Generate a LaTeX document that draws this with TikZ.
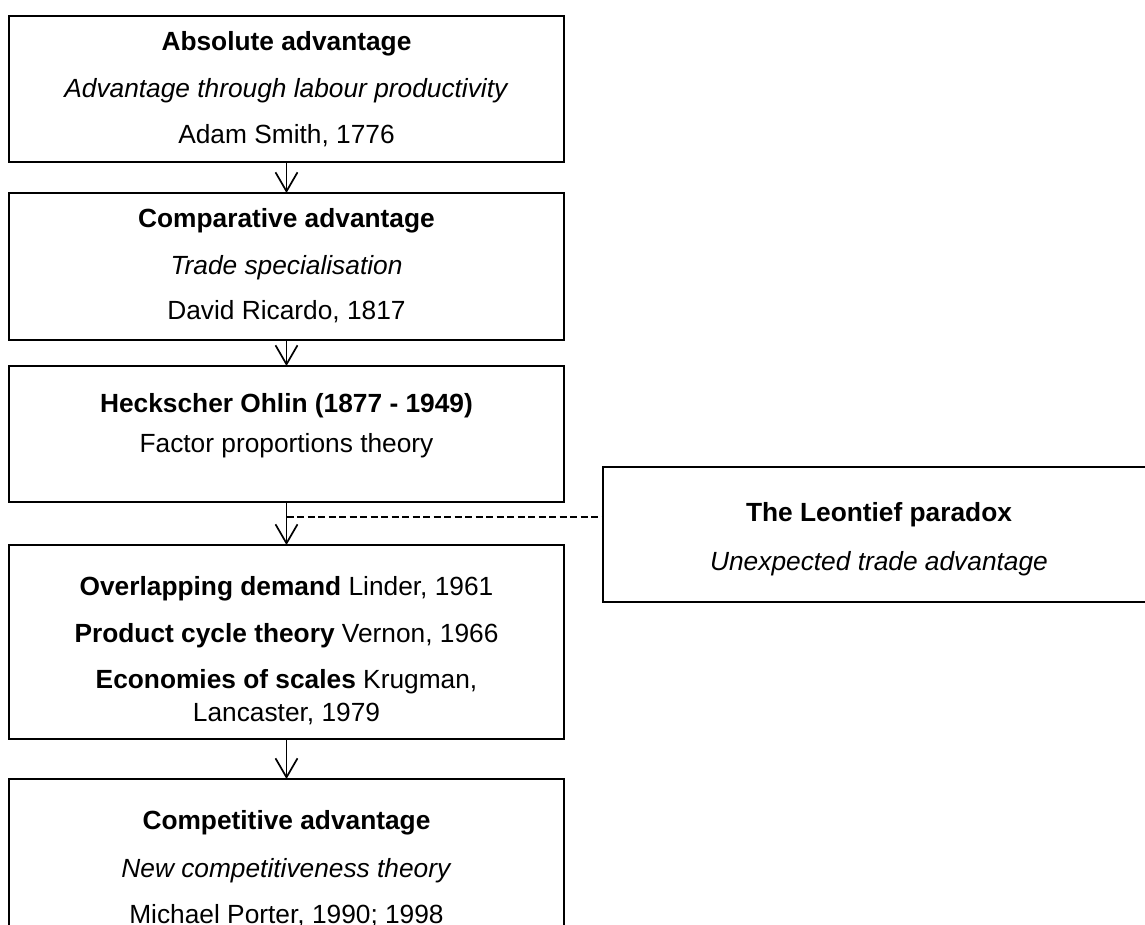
\documentclass[tikz,border=0pt]{standalone}
\usepackage{fontspec}
\setmainfont{Liberation Sans}
\usetikzlibrary{arrows.meta}
\tikzset{
  box/.style={draw=black, line width=1.5pt, rectangle, inner sep=0pt, outer sep=0pt},
  txt/.style={anchor=base, inner sep=0pt, outer sep=0pt, font=\fontsize{26.3}{31}\selectfont},
  arr/.style={draw=black, line width=1.7pt, -{Straight Barb[length=19pt,width=22pt,line width=1.7pt]}},
  dashline/.style={draw=black, line width=1.3pt, dash pattern=on 7pt off 3.5pt}
}
\begin{document}
\begin{tikzpicture}[x=1pt,y=-1pt]
\clip (0,0) rectangle (1145,925);
\fill[white] (0,0) rectangle (1145,925);
% boxes
\node[box, minimum width=555pt, minimum height=146pt] (b1) at (286.5,89) {};
\node[box, minimum width=555pt, minimum height=147pt] (b2) at (286.5,266.5) {};
\node[box, minimum width=555pt, minimum height=136pt] (b3) at (286.5,434) {};
\node[box, minimum width=555pt, minimum height=194pt] (b4) at (286.5,642) {};
\node[box, minimum width=555pt, minimum height=200pt] (b5) at (286.5,879) {};
\node[box, minimum width=557pt, minimum height=135pt] (leo) at (881.5,534.5) {};
% texts box 1
\node[txt] (t11) at (286.5,51) {\textbf{Absolute advantage}};
\node[txt] (t12) at (286.5,98) {\textit{Advantage through labour productivity}};
\node[txt] (t13) at (286.5,144) {Adam Smith, 1776};
% box 2
\node[txt] (t21) at (286.5,228) {\textbf{Comparative advantage}};
\node[txt] (t22) at (286.5,274) {\textit{Trade specialisation}};
\node[txt] (t23) at (286.5,319) {David Ricardo, 1817};
% box 3
\node[txt] (t31) at (286.5,412) {\textbf{Heckscher Ohlin (1877 - 1949)}};
\node[txt] (t32) at (286.5,452) {Factor proportions theory};
% box 4
\node[txt] (t41) at (286.5,595) {\textbf{Overlapping demand} Linder, 1961};
\node[txt] (t42) at (286.5,642) {\textbf{Product cycle theory} Vernon, 1966};
\node[txt] (t43) at (286.5,688) {\textbf{Economies of scales} Krugman,};
\node[txt] (t44) at (286.5,721) {Lancaster, 1979};
% box 5
\node[txt] (t51) at (286.5,829) {\textbf{Competitive advantage}};
\node[txt] (t52) at (286.5,877) {\textit{New competitiveness theory}};
\node[txt] (t53) at (286.5,923) {Michael Porter, 1990; 1998};
% Leontief
\node[txt] (tl1) at (879,521) {\textbf{The Leontief paradox}};
\node[txt] (tl2) at (879,570) {\textit{Unexpected trade advantage}};
% connectors
\draw[arr] (b1.south) -- (b2.north);
\draw[arr] (b2.south) -- (b3.north);
\draw[arr] (b3.south) -- (b4.north);
\draw[arr] (b4.south) -- (b5.north);
\coordinate (m) at (286.5,517);
\draw[dashline] (m) -- (m -| leo.west);
\end{tikzpicture}
\end{document}
